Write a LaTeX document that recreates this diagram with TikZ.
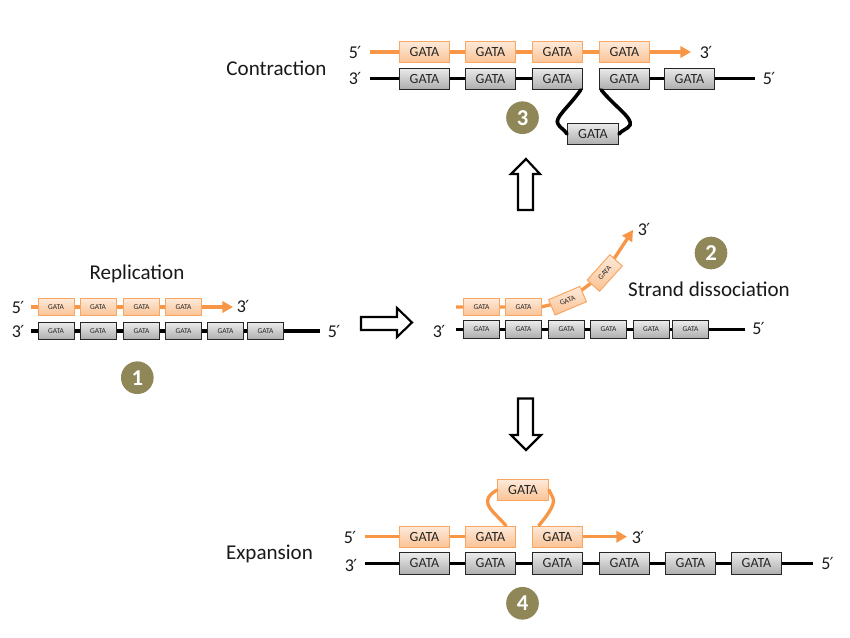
\documentclass[tikz,border=0pt]{standalone}
\usepackage{fontspec}
\setmainfont{Carlito}
\newfontfamily\primefont{DejaVu Sans}
\newcommand{\prm}{{\primefont\fontsize{12.5}{12.5}\selectfont\kern-0.5pt ′}}
\usetikzlibrary{arrows.meta}
\definecolor{orng}{HTML}{F79646}
\definecolor{badge}{HTML}{8F8757}
\tikzset{
  x=0.75pt,y=-0.75pt,
  gbig/.style={draw=black!85,line width=0.75pt,top color=black!8,bottom color=black!32,minimum width=38.2pt,minimum height=16pt,inner sep=0pt,font=\fontsize{10.5}{10.5}\selectfont,text=black!85},
  obig/.style={draw=orng!85,line width=0.75pt,top color=orng!20,bottom color=orng!58,minimum width=38.2pt,minimum height=16pt,inner sep=0pt,font=\fontsize{10.5}{10.5}\selectfont,text=black!85},
  gsmall/.style={gbig,minimum width=27pt,minimum height=13pt,font=\fontsize{5.6}{5.6}\selectfont},
  osmall/.style={obig,minimum width=27pt,minimum height=13pt,font=\fontsize{5.6}{5.6}\selectfont},
  otilt/.style={osmall,minimum width=25.5pt,minimum height=12.5pt},
  blackline/.style={draw=black,line width=2.7pt},
  orangeline/.style={draw=orng,line width=2.5pt},
  orangearrow/.style={orangeline,-{Triangle[length=8pt,width=8.5pt]}},
  heading/.style={font=\fontsize{15.8}{15.8}\selectfont,text=black!90,inner sep=0pt},
  endmark/.style={font=\fontsize{13.5}{13.5}\selectfont,text=black!90,inner sep=0pt},
  badgenode/.style={circle,fill=badge,text=white,minimum size=24.5pt,inner sep=0pt,font=\bfseries\fontsize{17}{17}\selectfont},
  blockarrow/.style={draw=black,line width=1.6pt,fill=white,line join=miter},
}
\begin{document}
\begin{tikzpicture}
\useasboundingbox (0,0) rectangle (850,638);
% Contraction
\coordinate (ta) at (370,52);
\coordinate (tb) at (691,52);
\coordinate (tc) at (370,78.7);
\coordinate (td) at (755,78.7);
\draw[orangeline] (ta) -- (599,52);
\draw[orangearrow] (599,52) -- (tb);
\draw[blackline] (tc) -- (583,78.7);
\draw[blackline] (650,78.7) -- (td);
\foreach \n/\x in {1/424.5,2/490.5,3/557.5,4/624.5}
  \node[obig] (co\n) at (\x,52) {GATA};
\foreach \n/\x in {1/424.5,2/490.5,3/557.5,4/624.5,5/689.5}
  \node[gbig] (cg\n) at (\x,78.7) {GATA};
\node[gbig] (cl) at (593,134) {GATA};
\draw[black,line width=2.7pt,line cap=round] ([xshift=-2pt]cg3.south east) .. controls (568,108) and (554,118) .. (558,124) .. controls (560,128) and (564,129) .. (cl.west);
\draw[black,line width=2.7pt,line cap=round] ([xshift=2pt]cg4.south west) .. controls (614,106) and (633,118) .. (630,125) .. controls (628,129) and (622,130) .. (cl.east);
\node[endmark] (t5) at (355,52) {5\prm};
\node[endmark] (t3) at (355,78.5) {3\prm};
\node[endmark] (t3r) at (706,52) {3\prm};
\node[endmark] (t5r) at (769,78.5) {5\prm};
\node[heading] (contraction) at (276.5,68) {Contraction};
\node[badgenode] (b3) at (522.5,117.7) {3};
% Replication
\coordinate (la) at (31,307);
\coordinate (lb) at (233,307);
\coordinate (lc) at (31,331);
\coordinate (ld) at (320,331);
\draw[orangeline] (la) -- (190,307);
\draw[orangearrow] (190,307) -- (lb);
\draw[blackline] (lc) -- (ld);
\foreach \n/\x in {1/56,2/98,3/141.5,4/183.5}
  \node[osmall] (lo\n) at (\x,307) {GATA};
\foreach \n/\x in {1/56,2/98,3/141.5,4/183.5,5/225.5,6/265.5}
  \node[gsmall] (lg\n) at (\x,331) {GATA};
\node[endmark] (l5) at (18,307.5) {5\prm};
\node[endmark] (l3) at (18,331.5) {3\prm};
\node[endmark] (l3r) at (243,306) {3\prm};
\node[endmark] (l5r) at (334,331.5) {5\prm};
\node[heading] (replication) at (137,274) {Replication};
\node[badgenode] (b1) at (137.3,377.7) {1};
% Dissociation
\coordinate (ma) at (456,307);
\coordinate (mb) at (633,230);
\coordinate (mc) at (456,329.5);
\coordinate (md) at (745,329.5);
\draw[orangeline] (ma) -- (481.5,307) -- (541,307) -- (567.5,300.7) -- (604.7,273);
\draw[orangearrow] (604.7,273) -- (mb);
\node[osmall] (mo1) at (481.5,307) {GATA};
\node[osmall] (mo2) at (523.5,307) {GATA};
\node[otilt,rotate=23] (mo3) at (567.5,300.7) {GATA};
\node[otilt,rotate=48] (mo4) at (604.7,273) {GATA};
\draw[blackline] (mc) -- (md);
\foreach \n/\x in {1/481.5,2/523.5,3/566.5,4/608.5,5/651,6/690.5}
  \node[gsmall] (mg\n) at (\x,329.5) {GATA};
\node[endmark] (m3) at (439,331.5) {3\prm};
\node[endmark] (m5) at (758.5,328) {5\prm};
\node[endmark] (m3t) at (644,229) {3\prm};
\node[heading] (dissoc) at (709,289) {Strand dissociation};
\node[badgenode] (b2) at (711,253) {2};
% Expansion
\coordinate (ea) at (365,536.7);
\coordinate (eb) at (627,536.7);
\coordinate (ec) at (365,563.5);
\coordinate (ed) at (813,563.5);
\draw[orangeline] (ea) -- (465,536.7);
\draw[orangearrow] (583,536.7) -- (eb);
\draw[blackline] (ec) -- (ed);
\foreach \n/\x in {1/424.5,2/490.5,3/557.5}
  \node[obig] (eo\n) at (\x,536.7) {GATA};
\foreach \n/\x in {1/424.5,2/490.5,3/557.5,4/624.5,5/690.5,6/756.5}
  \node[gbig] (eg\n) at (\x,563.5) {GATA};
\node[obig] (el) at (523,490) {GATA};
\draw[orng,line width=2.5pt,line cap=round] ([xshift=11.5pt]eo2.north) .. controls (497,515) and (485,507) .. (488,499) .. controls (489,495) and (493,492.5) .. (el.west);
\draw[orng,line width=2.5pt,line cap=round] ([xshift=-14pt]eo3.north) .. controls (545,518) and (556,505) .. (553,498) .. controls (552,495) and (550,493) .. (el.east);
\node[endmark] (e5) at (350,537) {5\prm};
\node[endmark] (e3) at (351,565) {3\prm};
\node[endmark] (e3r) at (638,537) {3\prm};
\node[endmark] (e5r) at (827.5,563) {5\prm};
\node[heading] (expansion) at (269.5,554) {Expansion};
\node[badgenode] (b4) at (522.5,603.3) {4};
% Block arrows
\draw[blockarrow] (526,159) -- (540,174) -- (533,174) -- (533,210) -- (518,210) -- (518,174) -- (511,174) -- cycle;
\draw[blockarrow] (526,450) -- (541,435) -- (533,435) -- (533,398.5) -- (518,398.5) -- (518,435) -- (511,435) -- cycle;
\draw[blockarrow] (412,322.5) -- (397,308) -- (397,317) -- (361,317) -- (361,330) -- (397,330) -- (397,337) -- cycle;
\end{tikzpicture}
\end{document}
